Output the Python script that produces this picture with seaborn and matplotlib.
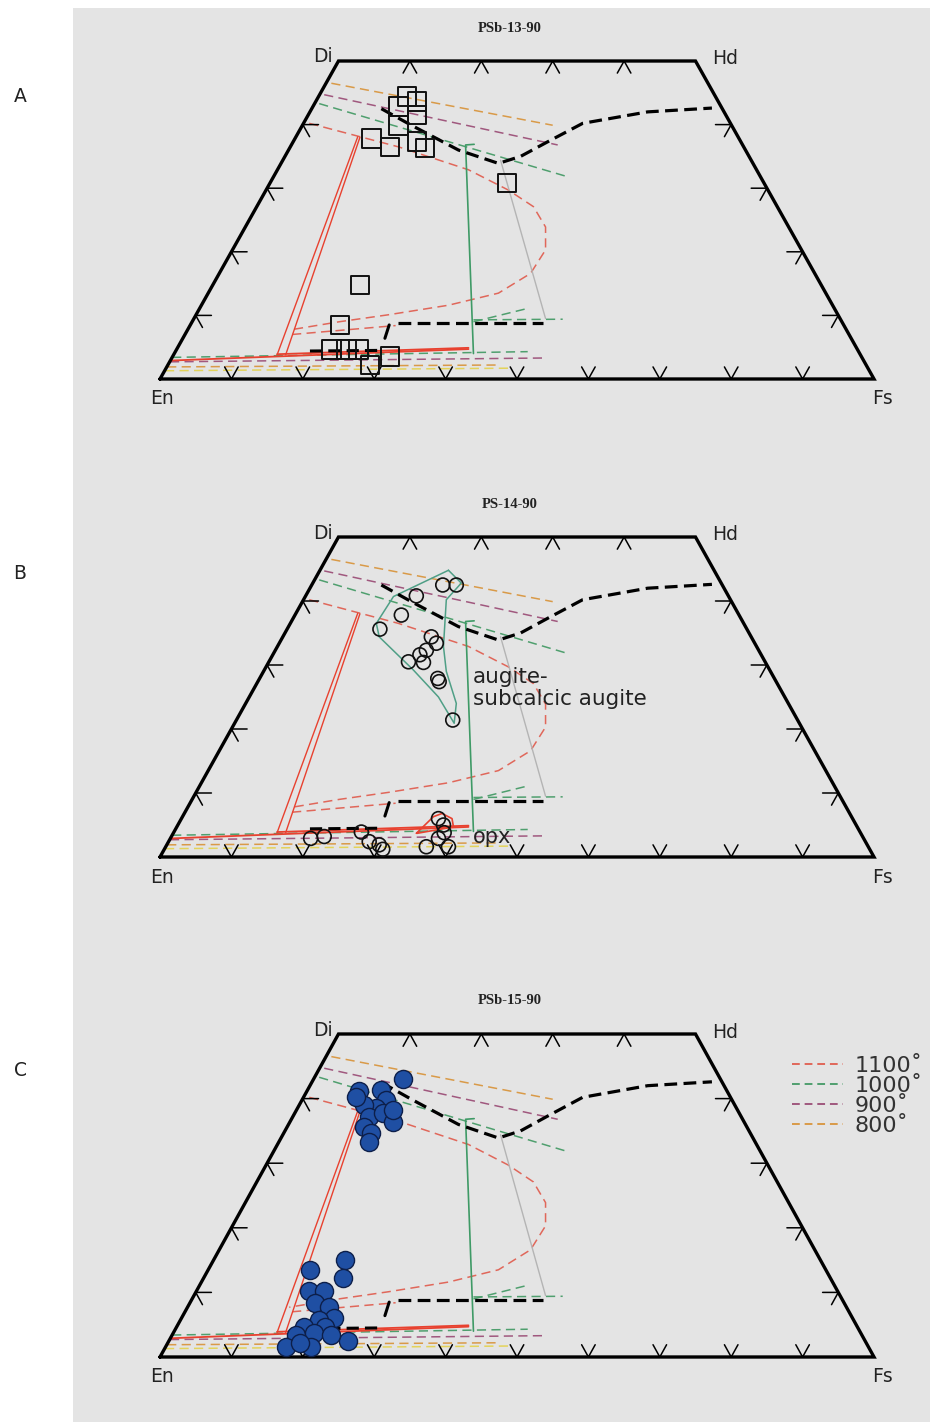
import matplotlib
matplotlib.use("Agg")
import matplotlib.pyplot as plt
import seaborn as sns
from matplotlib.lines import Line2D
from matplotlib.patches import Rectangle

# ternary coordinates of the pyroxene quadrilateral:
# x = Fs + Wo/2 (0..100), y = Wo (0..50)
panel_titles = ["PSb-13-90", "PS-14-90", "PSb-15-90"]
panel_letters = ["A", "B", "C"]

# PSb-13-90, open squares
sq_x = [34.6, 36.0, 33.4, 36.0, 33.4, 29.6, 32.2, 36.0, 37.1, 48.6,
        28.0, 25.2, 24.0, 26.1, 27.8, 29.4, 32.2]
sq_y = [44.4, 43.6, 42.8, 41.5, 39.9, 37.8, 36.5, 37.3, 36.3, 30.8,
        14.8, 8.5, 4.6, 4.6, 4.6, 2.2, 3.5]

# PS-14-90, open circles
oc_x = [39.6, 41.5, 35.9, 33.8, 30.8, 38.0, 38.7, 37.3, 36.4, 34.8, 36.9, 38.9, 39.1, 41.0,
        21.1, 23.0, 28.2, 29.3, 30.7, 31.2, 39.0, 39.7, 39.0, 37.3, 40.4, 39.8]
oc_y = [42.5, 42.5, 40.8, 37.8, 35.6, 34.4, 33.4, 32.3, 31.6, 30.5, 30.4, 27.9, 27.4, 21.4,
        2.9, 3.2, 3.9, 2.4, 1.9, 1.2, 6.0, 5.0, 2.9, 1.6, 1.6, 3.8]

# PSb-15-90, filled circles
fc_x = [27.9, 31.0, 34.1, 31.7, 30.3, 28.6, 29.3, 31.3, 32.7, 28.6, 29.6, 29.3, 27.5, 32.7,
        21.0, 25.9, 25.7, 20.8, 22.9, 21.7, 23.6, 24.3, 22.2, 20.1, 23.1, 19.1, 21.5, 17.7,
        21.2, 26.4, 19.6, 24.0]
fc_y = [41.1, 41.3, 43.1, 39.8, 38.5, 39.0, 37.2, 37.7, 36.4, 35.6, 34.6, 33.3, 40.3, 38.2,
        13.5, 15.0, 12.3, 10.2, 10.2, 8.3, 7.8, 6.0, 5.8, 4.7, 4.7, 3.4, 3.7, 1.6,
        1.6, 2.4, 2.1, 3.4]

# PS-14-90 envelopes
aug_env_x = [40.4, 32.7, 30.3, 30.7, 35.5, 39.0, 41.2, 41.5, 40.1, 39.7, 40.1, 42.2, 40.4]
aug_env_y = [44.8, 40.7, 36.5, 34.4, 29.2, 25.0, 20.9, 24.0, 29.0, 32.9, 40.2, 42.8, 44.8]
opx_env_x = [35.9, 38.3, 39.5, 40.9, 41.1, 36.0]
opx_env_y = [3.7, 6.3, 6.8, 6.0, 4.7, 3.7]

# thick black dashed boundaries
bnd_up_x = [31.0, 35.2, 41.8, 47.4, 50.5, 54.3, 59.2, 68.3, 77.3]
bnd_up_y = [42.5, 39.9, 36.0, 33.9, 35.0, 37.3, 40.2, 42.0, 42.6]
bnd_low_x = [33.4, 53.6]
bnd_low_y = [8.8, 8.8]
bnd_tick_x = [32.1, 31.5]
bnd_tick_y = [8.5, 6.4]
bnd_short_x = [21.0, 31.0]
bnd_short_y = [4.4, 4.5]

# solid tie lines
red_tie1_x, red_tie1_y = [27.7, 16.4], [38.1, 3.8]
red_tie2_x, red_tie2_y = [28.0, 17.6], [38.0, 3.8]
red_base1_x, red_base1_y = [1.5, 43.2], [2.9, 4.7]
red_base2_x, red_base2_y = [16.4, 43.2], [3.9, 4.9]
grn_tie_x, grn_tie_y = [44.0, 42.8, 43.9], [36.9, 36.8, 4.0]
gry_tie_x, gry_tie_y = [47.7, 54.0], [34.4, 9.5]

# isotherms (dashed)
iso800_up_x, iso800_up_y = [24.0, 55.0], [46.5, 39.9]
iso900_up_x, iso900_up_y = [23.0, 55.7], [44.7, 36.8]
iso1000_up_x, iso1000_up_y = [22.3, 57.1], [43.3, 31.8]
iso1100_x = [20.9, 33.4, 43.2, 48.8, 52.3, 54.0, 54.0, 51.9, 47.4, 40.4, 32.0, 25.1, 18.1]
iso1100_y = [40.2, 36.5, 32.9, 29.7, 27.1, 23.9, 20.3, 16.6, 13.5, 11.6, 10.1, 9.0, 7.7]
iso1100_low_x, iso1100_low_y = [18.5, 33.0], [7.0, 8.4]
iso1000_rise_x, iso1000_rise_y = [43.9, 51.5], [9.0, 11.1]
iso1000_flat_x, iso1000_flat_y = [43.9, 56.4], [9.3, 9.4]
iso1000_bot_x, iso1000_bot_y = [1.7, 51.5], [3.4, 4.3]
iso900_bot_x, iso900_bot_y = [1.4, 53.6], [2.7, 3.3]
iso800_bot_x, iso800_bot_y = [1.0, 47.4], [1.9, 2.2]
isoyel_bot_x, isoyel_bot_y = [0.7, 49.0], [1.3, 1.7]

legend_labels = ["1100˚", "1000˚", "900˚", "800˚"]

C1100, C1000, C900, C800, CYEL = "#e0675a", "#4f9f6e", "#a0587e", "#d99a48", "#e3d35a"

# quadrilateral ticks
tick_bottom = [10, 20, 30, 40, 50, 60, 70, 80, 90]
tick_top = [35, 45, 55, 65]
tick_side = [10, 20, 30, 40]

# panel placement in pixels (top, bottom)
W, H = 930, 1422
X_EN, X_FS = 160, 874
panel_rows = [(61, 379), (537, 857), (1034, 1357)]

sns.set_style("white")
plt.rcParams["font.family"] = ["DejaVu Sans"]

fig = plt.figure(figsize=(W / 100, H / 100), dpi=100, facecolor="white")
bg = fig.add_axes([0, 0, 1, 1], zorder=-5)
bg.set_xlim(0, W)
bg.set_ylim(H, 0)
bg.axis("off")
bg.add_patch(Rectangle((73, 8), W - 73, H - 8, facecolor="#e4e4e4", edgecolor="none"))


def dline(ax, x, y, color, lw=1.1, dash=None, z=2):
    sns.lineplot(x=x, y=y, ax=ax, sort=False, estimator=None, color=color, lw=lw, zorder=z)
    ln = ax.lines[-1]
    if dash:
        ln.set_dashes(dash)
    return ln


def figtext(x, y, s, **kw):
    fig.text(x / W, 1 - y / H, s, **kw)


def draw_template(ax):
    # frame
    ax.plot([0, 25, 75, 100, 0], [0, 50, 50, 0, 0], color="black", lw=2.4,
            solid_joinstyle="miter", zorder=5, clip_on=False)
    a, b = 0.95, 1.9
    for t in tick_bottom:
        ax.plot([t - a, t, t + a], [b, 0, b], color="black", lw=1.1, zorder=5)
    for t in tick_top:
        ax.plot([t - a, t, t + a], [50 - b, 50, 50 - b], color="black", lw=1.1, zorder=5)
    for w in tick_side:
        x0 = w / 2
        ax.plot([x0 + 2.2, x0, x0 + a], [w, w, w - b], color="black", lw=1.1, zorder=5)
        x1 = 100 - w / 2
        ax.plot([x1 - 2.2, x1, x1 - a], [w, w, w - b], color="black", lw=1.1, zorder=5)

    d = (6, 3.5)
    dline(ax, iso800_up_x, iso800_up_y, C800, dash=d)
    dline(ax, iso900_up_x, iso900_up_y, C900, dash=d)
    dline(ax, iso1000_up_x, iso1000_up_y, C1000, dash=d)
    dline(ax, iso1100_x, iso1100_y, C1100, dash=d)
    dline(ax, iso1100_low_x, iso1100_low_y, C1100, dash=d)
    dline(ax, iso1000_rise_x, iso1000_rise_y, C1000, dash=d)
    dline(ax, iso1000_flat_x, iso1000_flat_y, C1000, dash=d)
    dline(ax, iso1000_bot_x, iso1000_bot_y, C1000, dash=d)
    dline(ax, iso900_bot_x, iso900_bot_y, C900, dash=d)
    dline(ax, iso800_bot_x, iso800_bot_y, C800, dash=d)
    dline(ax, isoyel_bot_x, isoyel_bot_y, CYEL, dash=d)

    dline(ax, red_tie1_x, red_tie1_y, "#e8412f", lw=1.0)
    dline(ax, red_tie2_x, red_tie2_y, "#e8412f", lw=1.0)
    dline(ax, red_base1_x, red_base1_y, "#e8412f", lw=1.3)
    dline(ax, red_base2_x, red_base2_y, "#e8412f", lw=1.3)
    dline(ax, grn_tie_x, grn_tie_y, "#3f9a66", lw=1.2)
    dline(ax, gry_tie_x, gry_tie_y, "#b4b4b4", lw=1.0)

    bd = (4.0, 2.0)
    dline(ax, bnd_up_x, bnd_up_y, "black", lw=2.3, dash=bd, z=4)
    dline(ax, bnd_low_x, bnd_low_y, "black", lw=2.3, dash=bd, z=4)
    dline(ax, bnd_tick_x, bnd_tick_y, "black", lw=2.2, z=4)
    dline(ax, bnd_short_x, bnd_short_y, "black", lw=2.2, dash=bd, z=4)


axes = []
for i, (top, bot) in enumerate(panel_rows):
    ax = fig.add_axes([X_EN / W, 1 - bot / H, (X_FS - X_EN) / W, (bot - top) / H])
    ax.set_xlim(0, 100)
    ax.set_ylim(0, 50)
    ax.set_facecolor("none")
    ax.axis("off")
    draw_template(ax)
    axes.append(ax)

    figtext(510, top - 33, panel_titles[i], family="Liberation Serif", weight="bold",
            fontsize=10.5, ha="center", va="center", color="#222222")
    figtext(333, top - 4, "Di", fontsize=13.5, ha="right", va="center", color="#222222")
    figtext(712, top - 2, "Hd", fontsize=13.5, ha="left", va="center", color="#222222")
    figtext(162, bot + 20, "En", fontsize=13.5, ha="center", va="center", color="#222222")
    figtext(882, bot + 20, "Fs", fontsize=13.5, ha="center", va="center", color="#222222")
    figtext(20, top + 36, panel_letters[i], fontsize=13.5, ha="center", va="center",
            color="#222222")

# A: open squares
sns.scatterplot(x=sq_x, y=sq_y, ax=axes[0], marker="s", s=180, facecolors="none",
                edgecolor="#111111", linewidth=1.4, zorder=6)

# B: open circles and envelopes
dline(axes[1], aug_env_x, aug_env_y, "#4f9f86", lw=1.1, z=3)
dline(axes[1], opx_env_x, opx_env_y, "#e8412f", lw=1.2, z=3)
sns.scatterplot(x=oc_x, y=oc_y, ax=axes[1], marker="o", s=100, facecolors="none",
                edgecolor="#111111", linewidth=1.2, zorder=6)
axes[1].text(43.8, 26.4, "augite-\nsubcalcic augite", fontsize=15.5, color="#222222",
             ha="left", va="center", linespacing=1.15, zorder=7)
axes[1].text(43.8, 3.1, "opx", fontsize=15, color="#222222", ha="left", va="center", zorder=7)

# C: filled circles
sns.scatterplot(x=fc_x, y=fc_y, ax=axes[2], marker="o", s=170, color="#1f4fa3",
                edgecolor="#0d1f4a", linewidth=1.0, zorder=6)

handles = [Line2D([0], [0], color=c, lw=1.4, dashes=(4, 2.5)) for c in [C1100, C1000, C900, C800]]
fig.legend(handles, legend_labels, loc="upper left", bbox_to_anchor=(772 / W, 1 - 1036 / H),
           frameon=False, fontsize=16, handlelength=2.3, handletextpad=0.5,
           labelspacing=0.0, labelcolor="#333333")

fig.savefig("out.png", dpi=100, facecolor="white")
